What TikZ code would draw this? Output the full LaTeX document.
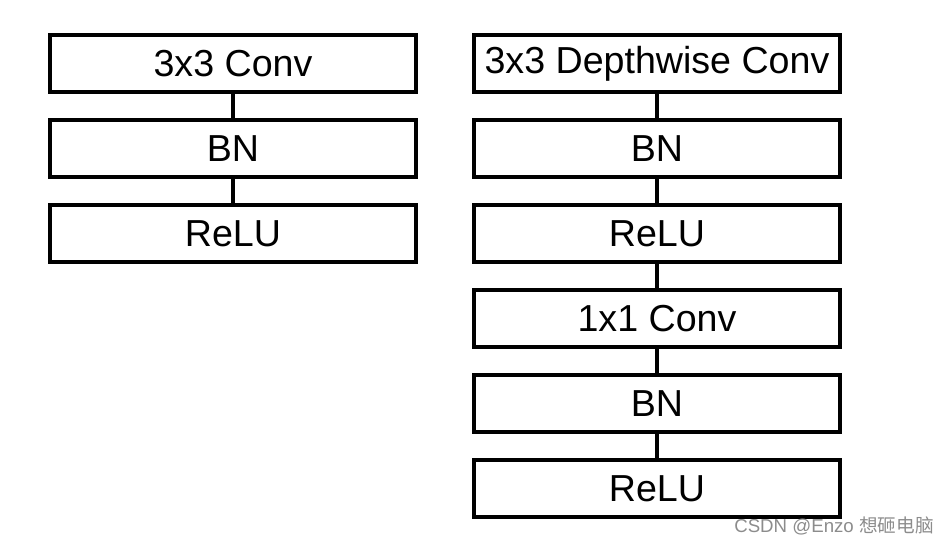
\documentclass[tikz,border=0pt]{standalone}
\usepackage{fontspec}
\setmainfont{Liberation Sans}
\newfontfamily\cjk{Noto Sans CJK SC}
\begin{document}
\begin{tikzpicture}[x=0.75pt,y=-0.75pt,
  blk/.style={draw=black,line width=2.4pt,minimum width=366*0.75pt,minimum height=57*0.75pt,inner sep=0pt,font=\fontsize{28.2}{32}\selectfont},
  link/.style={draw=black,line width=2.4pt}]
\useasboundingbox (0,0) rectangle (947,546);
\node[blk] (a1) at (233,63.5) {3x3 Conv};
\node[blk] (a2) at (233,148.5) {BN};
\node[blk] (a3) at (233,233.5) {ReLU};
\node[blk] (b1) at (657,63.5) {3x3 Depthwise Conv};
\node[blk] (b2) at (657,148.5) {BN};
\node[blk] (b3) at (657,233.5) {ReLU};
\node[blk] (b4) at (657,318.5) {1x1 Conv};
\node[blk] (b5) at (657,403.5) {BN};
\node[blk] (b6) at (657,488.5) {ReLU};
\draw[link] (a1) -- (a2);
\draw[link] (a2) -- (a3);
\draw[link] (b1) -- (b2);
\draw[link] (b2) -- (b3);
\draw[link] (b3) -- (b4);
\draw[link] (b4) -- (b5);
\draw[link] (b5) -- (b6);
\node[anchor=base east,text=black!45,font=\fontsize{14}{17}\selectfont,inner sep=0pt] (wm) at (934,532) {CSDN @Enzo {\cjk 想砸电脑}};
\end{tikzpicture}
\end{document}
